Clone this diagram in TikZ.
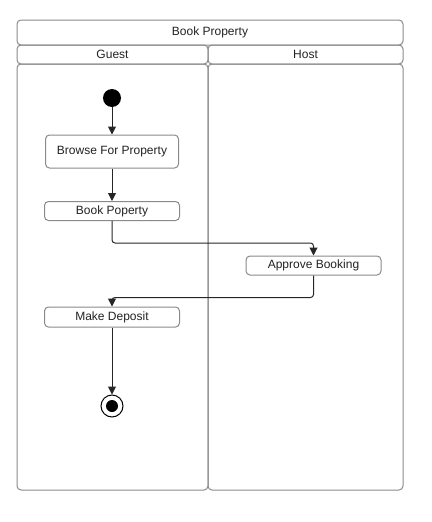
\documentclass[tikz,border=0pt]{standalone}
\usepackage{fontspec}
\setmainfont{Liberation Sans}
\usetikzlibrary{arrows.meta}
\definecolor{boxgray}{HTML}{8A8A8A}
\definecolor{txt}{HTML}{222222}
\begin{document}
\begin{tikzpicture}[x=1pt,y=-1pt,
  lane/.style={draw=boxgray,line width=1pt,rounded corners=4pt,inner sep=0pt,
    font=\fontsize{12}{14}\selectfont,text=txt},
  act/.style={draw=boxgray,line width=1pt,rounded corners=4pt,inner sep=0pt,fill=white,
    minimum width=135pt,font=\fontsize{12}{14}\selectfont,text=txt},
  conn/.style={draw=black!85,line width=1pt,rounded corners=3pt,
    -{Triangle[width=8pt,length=8pt]}}]
\useasboundingbox (0,0) rectangle (431,522);
% swimlanes
\node[lane,minimum width=386pt,minimum height=25pt] (title) at (210,32.5) {Book Property};
\node[lane,minimum width=191pt,minimum height=19pt] (guesth) at (112.5,54.5) {Guest};
\node[lane,minimum width=195pt,minimum height=19pt] (hosth) at (305.5,54.5) {Host};
\node[lane,minimum width=191pt,minimum height=426pt] (guest) at (112.5,277) {};
\node[lane,minimum width=195pt,minimum height=426pt] (host) at (305.5,277) {};
% activities
\node[circle,fill=black,minimum size=18pt,inner sep=0pt] (init) at (112,98) {};
\node[act,minimum width=133pt,minimum height=33pt] (browse) at (112,151.5) {Browse For Property};
\node[act,minimum height=19pt] (book) at (112,211) {Book Poperty};
\node[act,minimum height=19pt] (approve) at (313.5,265.5) {Approve Booking};
\node[act,minimum height=20pt] (deposit) at (112,317) {Make Deposit};
\node[circle,draw=black,line width=1pt,minimum size=22pt,inner sep=0pt] (final) at (112,406) {};
\node[circle,fill=black,minimum size=12pt,inner sep=0pt] (finalin) at (final.center) {};
% connectors
\draw[conn] (init) -- (browse);
\draw[conn] (browse) -- (book);
\draw[conn] (book.south) -- ++(0,22) -| (approve.north);
\draw[conn] (approve.south) -- ++(0,22) -| (deposit.north);
\draw[conn] (deposit) -- (final);
\end{tikzpicture}
\end{document}
